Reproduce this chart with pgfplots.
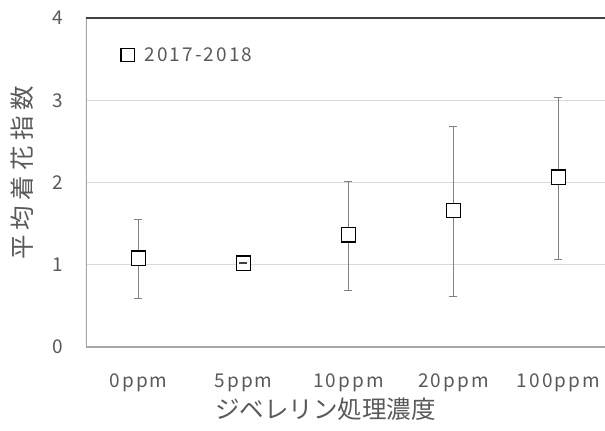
\documentclass[border=0pt]{standalone}
\usepackage{pgfplots}
\pgfplotsset{compat=1.18}
\usepackage{fontspec}
\setmainfont{Noto Sans CJK JP}
\newfontfamily\tickfont[LetterSpace=11]{Noto Sans CJK JP}
\newfontfamily\ylabfont[LetterSpace=22]{Noto Sans CJK JP}
\definecolor{txt}{HTML}{595959}
\definecolor{gridc}{HTML}{D9D9D9}
\definecolor{axc}{HTML}{A6A6A6}
\definecolor{topc}{HTML}{404040}
\definecolor{errc}{HTML}{808080}
\definecolor{errdark}{HTML}{404040}
\begin{document}
\begin{tikzpicture}
\path[use as bounding box] (-86bp,-84bp) rectangle (519bp,347bp);
\begin{axis}[
  at={(0,0)}, anchor=south west,
  scale only axis, width=519bp, height=329bp,
  xmin=-0.5, xmax=4.443, ymin=0, ymax=4,
  xtick={0,1,2,3,4},
  xticklabels={0ppm,5ppm,10ppm,20ppm,100ppm},
  ytick={0,1,2,3,4},
  ymajorgrids,
  grid style={color=gridc, line width=1.2bp},
  axis line style={draw=none},
  major tick length=0pt,
  /pgf/number format/assume math mode=true,
  xticklabel style={font=\tickfont\fontsize{19bp}{22bp}\selectfont, text=txt, anchor=base, yshift=-40bp, inner sep=0pt},
  yticklabel style={font=\fontsize{19bp}{22bp}\selectfont, text=txt, anchor=east, xshift=-23bp, inner sep=0pt},
  xlabel={ジベレリン処理濃度},
  xlabel style={at={(axis description cs:0.4615,-0.1884)}, anchor=center, font=\fontsize{24.5bp}{28bp}\selectfont, text=txt},
  ylabel={平均着花指数},
  ylabel style={at={(axis description cs:-0.1233,0.529)}, anchor=center, font=\ylabfont\fontsize{24.5bp}{28bp}\selectfont, text=txt},
  legend style={at={(axis description cs:0.0674,0.8875)}, anchor=west, draw=none, fill=none, inner sep=0pt, outer sep=0pt,
    font=\tickfont\fontsize{19bp}{22bp}\selectfont, text=txt,
    nodes={inner sep=0pt},
    /tikz/every odd column/.append style={column sep=10bp}},
  legend image code/.code={\draw[mark=square*, mark size=6.8bp, mark options={draw=black, fill=white, line width=1.2bp, solid}] plot coordinates {(0bp,0bp)};},
]
\addplot[only marks, mark=square*, mark size=7.2bp,
  mark options={draw=black, fill=white, line width=1.3bp},
  error bars/.cd, y dir=both, y explicit,
  error bar style={color=errc, line width=1.3bp},
  error mark options={rotate=90, mark size=4bp, color=errc, line width=1.3bp}]
coordinates {
  (0,1.08) += (0,0.47) -= (0,0.49)
  (1,1.02) += (0,0) -= (0,0)
  (2,1.365) += (0,0.645) -= (0,0.675)
  (3,1.66) += (0,1.025) -= (0,1.045)
  (4,2.065) += (0,0.965) -= (0,1.0)
};
\addlegendentry{2017-2018}
% zero-length error bar cap of the 5ppm point, drawn over its marker
\addplot[forget plot, only marks, mark=-, mark size=4bp,
  mark options={draw=errdark, line width=1.5bp}]
coordinates {
  (1,1.02)
};
\draw[axc, line width=1.3bp] (rel axis cs:0,1) -- (rel axis cs:0,0) -- (rel axis cs:1,0);
\draw[topc, line width=1.5bp] (rel axis cs:0,1) -- (rel axis cs:1,1);
\end{axis}
\end{tikzpicture}
\end{document}
